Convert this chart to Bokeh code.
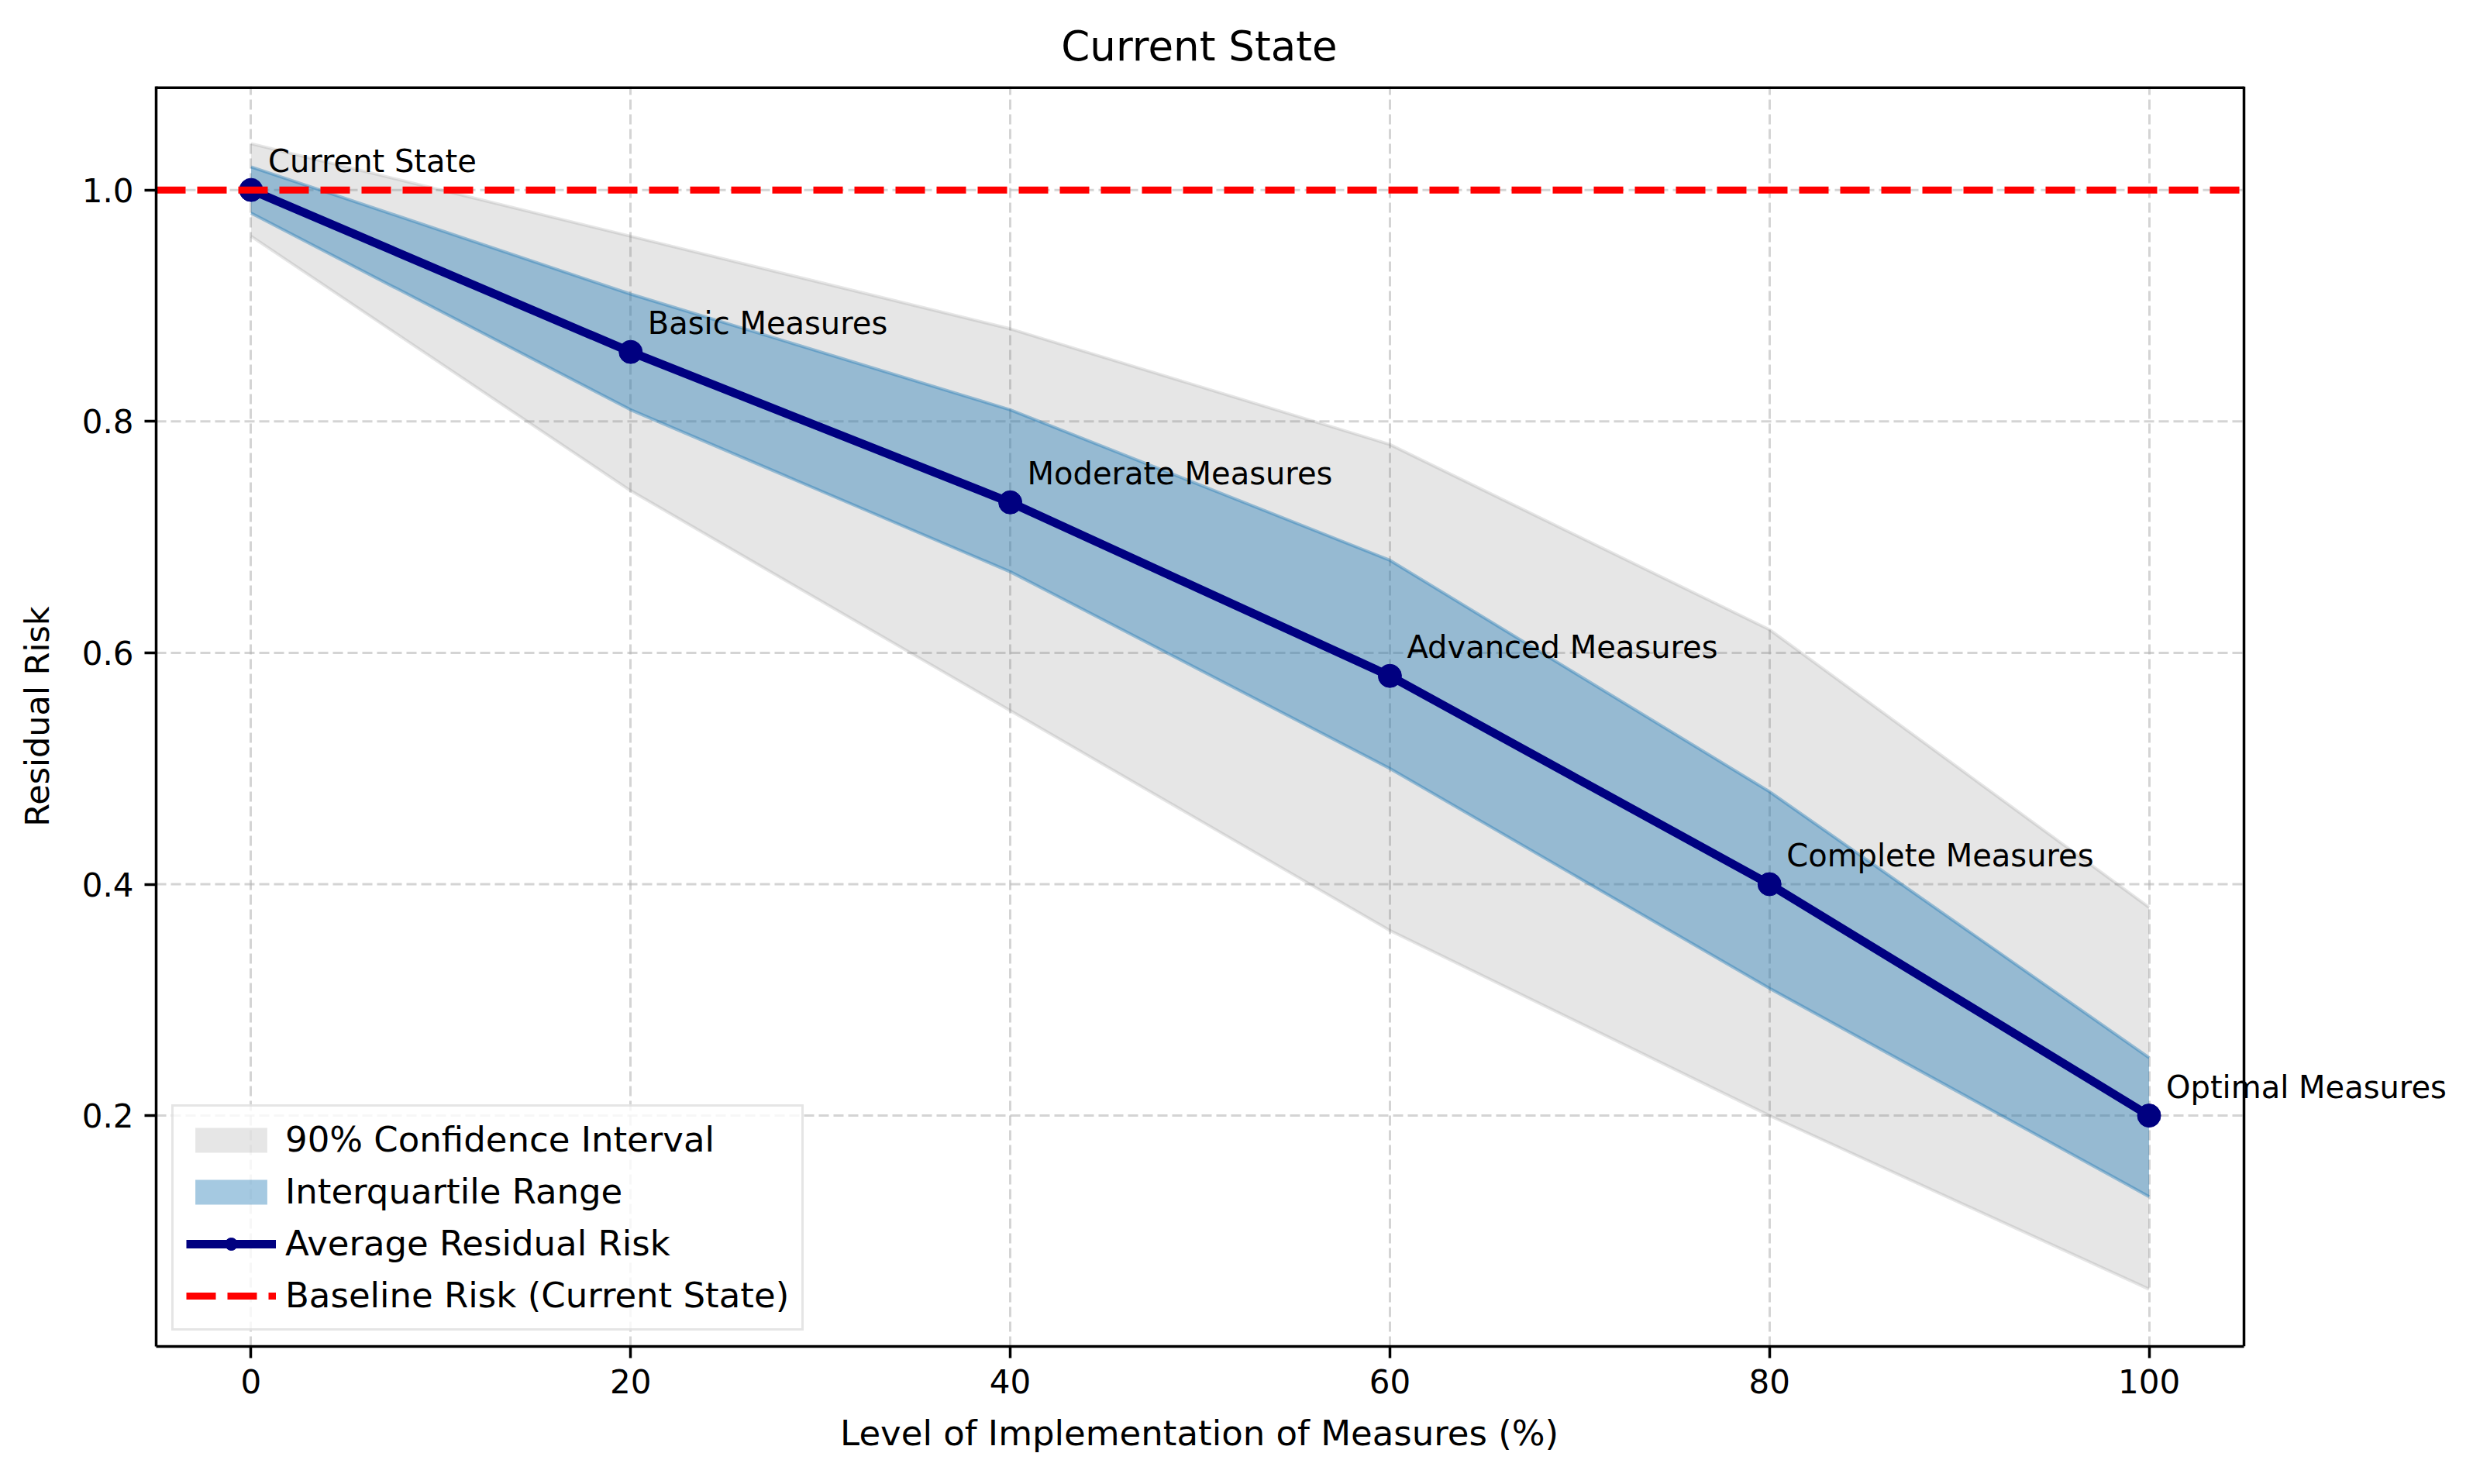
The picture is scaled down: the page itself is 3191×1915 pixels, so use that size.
from bokeh.plotting import figure
from bokeh.models import Range1d, FixedTicker, Label, PrintfTickFormatter, Title
from bokeh.embed import file_html
from bokeh.resources import INLINE

# ---- data ----
levels = [0, 20, 40, 60, 80, 100]
stage_labels = ["Current State", "Basic Measures", "Moderate Measures",
                "Advanced Measures", "Complete Measures", "Optimal Measures"]
mean_risk = [1.00, 0.86, 0.73, 0.58, 0.40, 0.20]
iqr_low = [0.98, 0.81, 0.67, 0.50, 0.31, 0.13]
iqr_high = [1.02, 0.91, 0.81, 0.68, 0.48, 0.25]
ci_low = [0.96, 0.74, 0.55, 0.36, 0.20, 0.05]
ci_high = [1.04, 0.96, 0.88, 0.78, 0.62, 0.38]
baseline_risk = 1.0
x_ticks = [0, 20, 40, 60, 80, 100]
x_tick_labels = ["0", "20", "40", "60", "80", "100"]
y_ticks = [0.2, 0.4, 0.6, 0.8, 1.0]
y_tick_labels = ["0.2", "0.4", "0.6", "0.8", "1.0"]

FONT = "DejaVu Sans"
TITLE = "Current State"
X_LABEL = "Level of Implementation of Measures (%)"
Y_LABEL = "Residual Risk"

# matplotlib-like 5% margins
xmin, xmax = min(levels), max(levels)
x_lo, x_hi = xmin - 0.05 * (xmax - xmin), xmax + 0.05 * (xmax - xmin)
ymin, ymax = min(ci_low), max(ci_high)
y_lo, y_hi = ymin - 0.05 * (ymax - ymin), ymax + 0.05 * (ymax - ymin)

# the visible axes box is AXES_W px wide; the bokeh frame extends further right
# so that the "Optimal Measures" annotation is not clipped
FIG_W, FIG_H = 3175, 1899
BORDER_L, BORDER_R = 201, 6
AXES_W = 2694
FRAME_W = FIG_W - BORDER_L - BORDER_R
x_end = x_lo + (x_hi - x_lo) * FRAME_W / AXES_W

p = figure(width=FIG_W, height=FIG_H, output_backend="svg", toolbar_location=None,
           x_range=Range1d(x_lo, x_end), y_range=Range1d(y_lo, y_hi),
           min_border_left=BORDER_L, min_border_right=BORDER_R,
           min_border_top=111, min_border_bottom=160,
           title=TITLE)

p.background_fill_color = "white"
p.border_fill_color = "white"
p.outline_line_color = None

# title centred over the visible axes box (DejaVu Sans width of the text ~6.76 em)
p.title.text_font = FONT
p.title.text_font_size = "53px"
p.title.text_font_style = "normal"
p.title.text_color = "black"
p.title.align = "left"
p.title.offset = AXES_W / 2 - 6.76 * 53 / 2
p.title.standoff = 44

# ---- grid (drawn only across the axes box) ----
p.xgrid.ticker = FixedTicker(ticks=x_ticks)
p.ygrid.visible = False
for g in (p.xgrid[0],):
    g.grid_line_color = "#b0b0b0"
    g.grid_line_alpha = 0.55
    g.grid_line_width = 3
    g.grid_line_dash = "13 6"
p.segment(x0=[x_lo] * len(y_ticks), x1=[x_hi] * len(y_ticks), y0=y_ticks, y1=y_ticks,
          line_color="#b0b0b0", line_alpha=0.55, line_width=3, line_dash="13 6")

# ---- fills ----
p.varea(x=levels, y1=ci_low, y2=ci_high, fill_color="gray", fill_alpha=0.2,
        legend_label="90% Confidence Interval")
p.line(levels, ci_low, line_color="gray", line_alpha=0.2, line_width=4)
p.line(levels, ci_high, line_color="gray", line_alpha=0.2, line_width=4)

p.varea(x=levels, y1=iqr_low, y2=iqr_high, fill_color="#1f77b4", fill_alpha=0.4,
        legend_label="Interquartile Range")
p.line(levels, iqr_low, line_color="#1f77b4", line_alpha=0.4, line_width=4)
p.line(levels, iqr_high, line_color="#1f77b4", line_alpha=0.4, line_width=4)

# ---- mean line ----
p.line(levels, mean_risk, line_color="navy", line_width=11,
       legend_label="Average Residual Risk")
p.scatter(levels, mean_risk, size=30, fill_color="navy", line_color="navy",
          legend_label="Average Residual Risk")

# ---- baseline (axhline across the axes box) ----
p.segment(x0=[x_lo], x1=[x_hi], y0=[baseline_risk], y1=[baseline_risk],
          line_color="red", line_dash="38 15", line_width=9,
          legend_label="Baseline Risk (Current State)")

# ---- top and right spines of the axes box ----
p.segment(x0=[x_lo], x1=[x_hi], y0=[y_hi], y1=[y_hi], line_color="black", line_width=7)
p.segment(x0=[x_hi], x1=[x_hi], y0=[y_lo], y1=[y_hi], line_color="black", line_width=3.5)

# ---- point annotations ----
for xv, yv, txt in zip(levels, mean_risk, stage_labels):
    p.add_layout(Label(x=xv, y=yv, text=txt, x_offset=22, y_offset=37,
                       text_font=FONT, text_font_size="40px", text_color="black",
                       text_baseline="alphabetic", text_align="left"))

# ---- axes ----
p.xaxis.ticker = FixedTicker(ticks=x_ticks)
p.yaxis.ticker = FixedTicker(ticks=y_ticks)
p.xaxis.bounds = (x_lo, x_hi)
p.xaxis.major_label_overrides = {t: s for t, s in zip(x_ticks, x_tick_labels)}
p.yaxis.formatter = PrintfTickFormatter(format="%.1f")
p.yaxis.major_label_overrides = {t: s for t, s in zip(y_ticks, y_tick_labels)}
p.yaxis.axis_label = Y_LABEL

for ax in (p.xaxis[0], p.yaxis[0]):
    ax.axis_line_color = "black"
    ax.axis_line_width = 3.5
    ax.major_tick_line_color = "black"
    ax.major_tick_line_width = 3.5
    ax.major_tick_out = 15
    ax.major_tick_in = 0
    ax.minor_tick_line_color = None
    ax.major_label_text_font = FONT
    ax.major_label_text_font_size = "42px"
    ax.major_label_text_color = "black"
    ax.major_label_standoff = 14
    ax.axis_label_text_font = FONT
    ax.axis_label_text_font_size = "43px"
    ax.axis_label_text_font_style = "normal"
    ax.axis_label_text_color = "black"
p.yaxis.axis_label_standoff = 30

# x-axis label, centred under the visible axes box (DejaVu Sans width ~20.64 em)
p.add_layout(Title(text=X_LABEL, align="left", offset=AXES_W / 2 - 20.64 * 45 / 2,
                   text_font=FONT, text_font_size="45px", text_font_style="normal",
                   text_color="black", vertical_align="top", standoff=44), "below")

# ---- legend ----
lg = p.legend[0]
lg.location = "bottom_left"
lg.margin = 20
lg.padding = 16
lg.spacing = 14
lg.glyph_width = 116
lg.glyph_height = 40
lg.label_standoff = 12
lg.label_text_font = FONT
lg.label_text_font_size = "45px"
lg.label_text_color = "black"
lg.border_line_color = "#cccccc"
lg.border_line_width = 3
lg.background_fill_color = "white"
lg.background_fill_alpha = 0.8

open("out.html", "w").write(file_html(p, INLINE))
